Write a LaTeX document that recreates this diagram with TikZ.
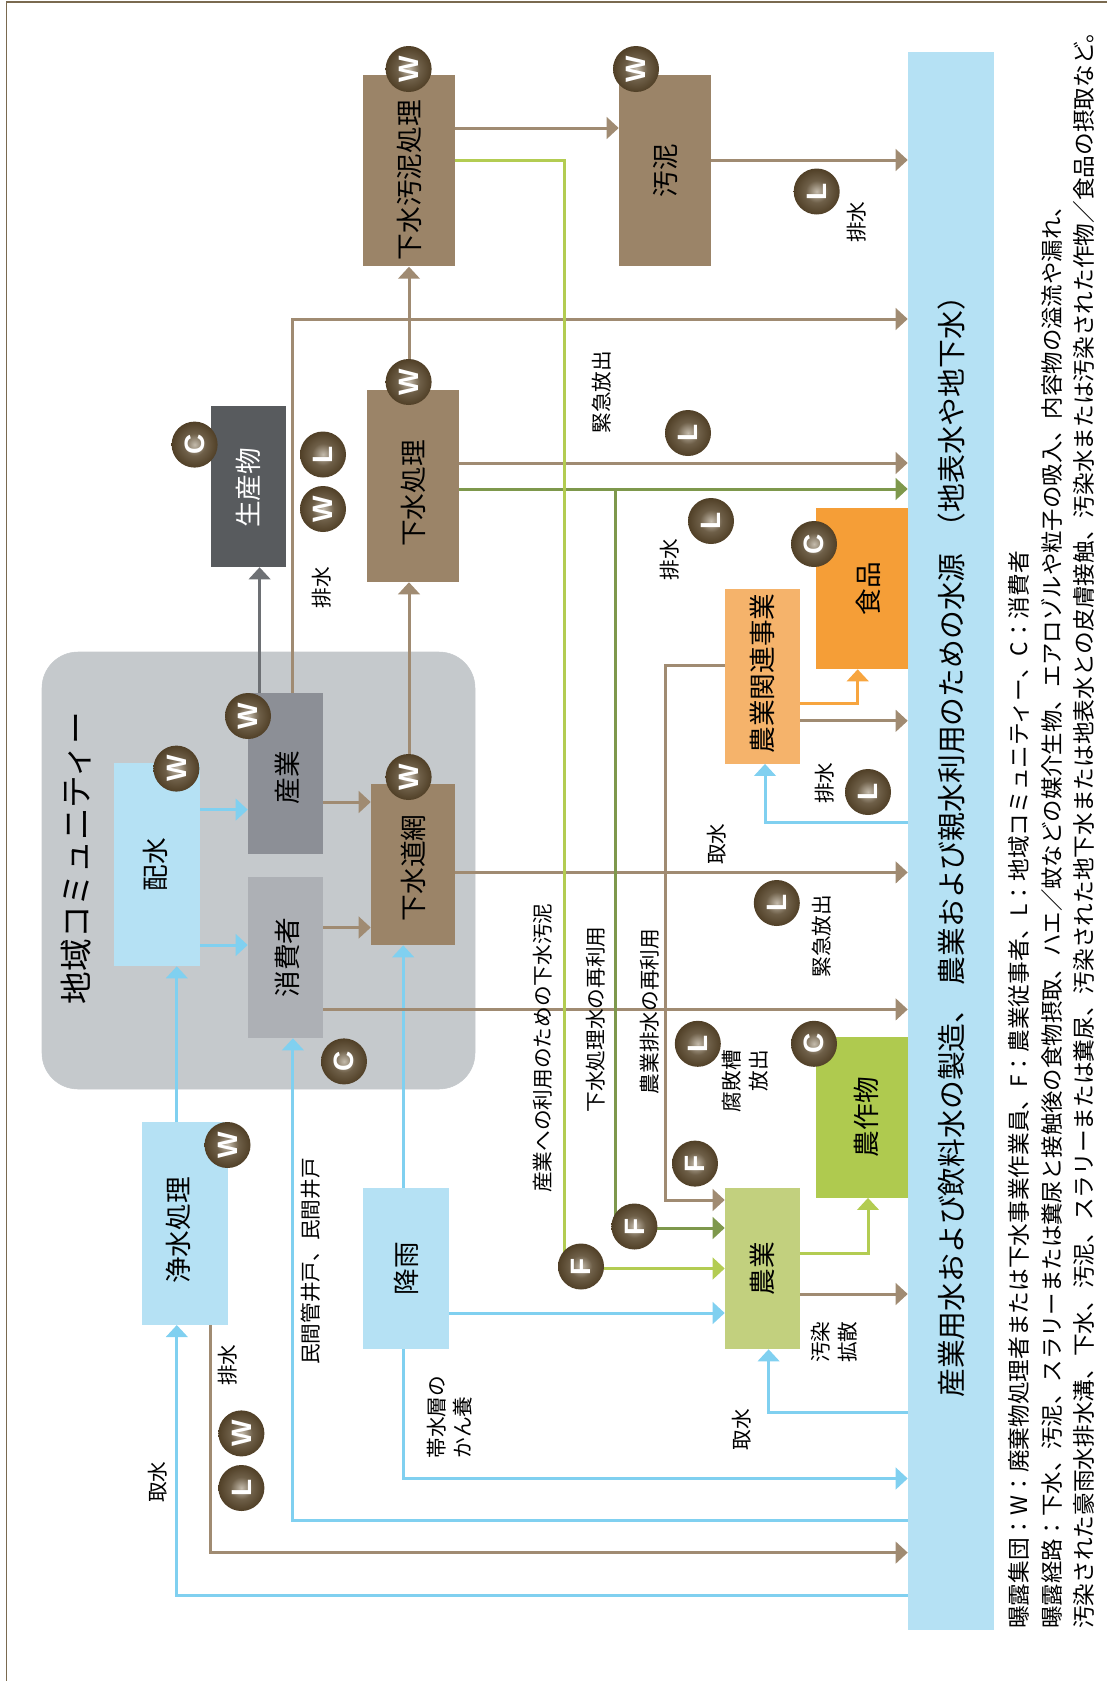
\documentclass[tikz,border=0pt]{standalone}
\usepackage{fontspec}
\setmainfont{Noto Sans CJK JP}
\newfontfamily\badgefont{Liberation Sans}
\usetikzlibrary{arrows.meta}

\definecolor{sewagebox}{HTML}{9B8468}
\definecolor{brownline}{HTML}{A08B72}
\definecolor{waterbox}{HTML}{B5E1F4}
\definecolor{waterline}{HTML}{80D0F0}
\definecolor{communitybox}{HTML}{C5C9CC}
\definecolor{productbox}{HTML}{585B5E}
\definecolor{productline}{HTML}{6D7074}
\definecolor{industrybox}{HTML}{8C8F96}
\definecolor{consumerbox}{HTML}{ADB0B5}
\definecolor{farmbox}{HTML}{C2D07E}
\definecolor{cropbox}{HTML}{AFCA4F}
\definecolor{lightgreenline}{HTML}{B3CC52}
\definecolor{darkgreenline}{HTML}{7E984C}
\definecolor{foodbox}{HTML}{F59E37}
\definecolor{bizbox}{HTML}{F5B36B}
\definecolor{bizline}{HTML}{F7A53F}
\definecolor{framecolor}{HTML}{7A6A50}
\definecolor{badgedark}{HTML}{4E3D24}
\definecolor{badgemid}{HTML}{6E5F48}
\definecolor{badgelight}{HTML}{C4BBAC}

\pgfdeclareradialshading{badgeglow}{\pgfpointorigin}{color(0bp)=(badgelight); color(12bp)=(badgemid); color(26bp)=(badgedark); color(50bp)=(badgedark)}

\tikzset{
  block/.style n args={3}{rectangle,fill=#1,minimum width=#2,minimum height=#3,inner sep=0pt},
  boxtext/.style={rotate=90,inner sep=0pt,font=\fontsize{20}{24}\selectfont},
  smalltext/.style={rotate=90,inner sep=0pt,font=\fontsize{15.5}{20}\selectfont},
  notetext/.style={rotate=90,anchor=west,inner sep=0pt,font=\fontsize{17}{20}\selectfont},
  badge/.style={circle,rotate=90,minimum size=34.5pt,inner sep=0pt,shading=badgeglow,text=white,font=\badgefont\bfseries\fontsize{21}{21}\selectfont},
  flow/.style={draw=#1,line width=2.25pt,>={Triangle[length=9pt,width=16pt]}},
}

\begin{document}
\begin{tikzpicture}[x=0.75pt,y=0.75pt,yscale=-1,xscale=1]
\useasboundingbox (0,0) rectangle (1107,1681);

%Frame
\draw [framecolor,line width=1.1pt] (1107,2) -- (6.4,2) -- (6.4,1681);

%Community
\draw [communitybox,fill=communitybox,rounded corners=27pt] (42,652) rectangle (475,1089);
\node [rotate=90,inner sep=0pt,font=\fontsize{24.5}{28}\selectfont] (communitytitle) at (76,858) {地域コミュニティー};

% Boxes
\node [block={sewagebox}{69pt}{143.6pt},label={[yshift=-7pt,boxtext]center:下水汚泥処理}] (sludgetreat) at (409,170.7) {};
\node [block={sewagebox}{69pt}{143.6pt},label={[boxtext]center:汚泥}] (sludge) at (665,170.7) {};
\node [block={sewagebox}{69pt}{144pt},label={[yshift=-5.5pt,boxtext]center:下水処理}] (sewagetreat) at (413,486) {};
\node [block={sewagebox}{63pt}{120.75pt},label={[yshift=-2.5pt,boxtext]center:下水道網}] (sewer) at (413,864.5) {};
\node [block={productbox}{56.25pt}{120.75pt},label={[yshift=-1pt,boxtext,text=white]center:生産物}] (product) at (248.5,486.5) {};
\node [block={waterbox}{64.5pt}{152.25pt},label={[xshift=-1.5pt,boxtext]center:配水}] (distribution) at (157,864.5) {};
\node [block={industrybox}{56.25pt}{120.75pt},label={[xshift=1.5pt,yshift=-3pt,boxtext]center:産業}] (industry) at (285.5,773.5) {};
\node [block={consumerbox}{56.25pt}{120.75pt},label={[xshift=1.5pt,boxtext]center:消費者}] (consumer) at (285.5,957.5) {};
\node [block={waterbox}{64.5pt}{152pt},label={[xshift=-4.8pt,yshift=-5.4pt,boxtext]center:浄水処理}] (purify) at (185,1223.4) {};
\node [block={waterbox}{64.5pt}{120.75pt},label={[boxtext]center:降雨}] (rain) at (406,1268.5) {};
\node [block={farmbox}{56.25pt}{120.75pt},label={[boxtext]center:農業}] (farm) at (762.5,1268.5) {};
\node [block={cropbox}{69pt}{120.5pt},label={[xshift=3pt,boxtext]center:農作物}] (crop) at (862,1117.3) {};
\node [block={foodbox}{69pt}{120.75pt},label={[xshift=5pt,boxtext]center:食品}] (food) at (862,588.5) {};
\node [block={bizbox}{56.25pt}{131pt},label={[yshift=2pt,boxtext]center:農業関連事業}] (agribiz) at (762.5,676.3) {};
\node [block={waterbox}{64.5pt}{1183.5pt}] (source) at (951,841) {};
\node [rotate=90,anchor=west,inner sep=0pt,font=\fontsize{21.6}{26}\selectfont] (sourcetitle) at (951.5,1398) {産業用水および飲料水の製造、\hspace{7pt}農業および親水利用のための水源\hspace{9pt}（地表水や地下水）};

%Water lines
\draw [flow=waterline,->] (source.west |- 0,1595) -| (176.8,0 |- purify.south);
\draw [flow=waterline,->] (176.8,0 |- purify.north) -- (176.8,0 |- distribution.south);
\draw [flow=waterline,->] (distribution.east |- 0,809.6) -- (industry.west |- 0,809.6);
\draw [flow=waterline,->] (distribution.east |- 0,945) -- (consumer.west |- 0,945);
\draw [flow=waterline,->] (source.west |- 0,1520.8) -| (292.9,0 |- consumer.south);
\draw [flow=waterline,->] (403.2,0 |- rain.north) -- (403.2,0 |- sewer.south);
\draw [flow=waterline,->] (403.2,0 |- rain.south) |- (source.west |- 0,1478.5);
\draw [flow=waterline,->] (rain.east |- 0,1313) -- (farm.west |- 0,1313);
\draw [flow=waterline,->] (source.west |- 0,1412) -| (768.6,0 |- farm.south);
\draw [flow=waterline,->] (source.west |- 0,822.6) -| (765,0 |- agribiz.south);

%Sewage lines
\draw [flow=brownline,->] (210.7,0 |- purify.south) |- (source.west |- 0,1552.6);
\draw [flow=brownline,->] (consumer.east |- 0,1009.4) -- (source.west |- 0,1009.4);
\draw [flow=brownline,->] (sewer.east |- 0,872.4) -- (source.west |- 0,872.4);
\draw [flow=brownline,->] (industry.east |- 0,802) -- (sewer.west |- 0,802);
\draw [flow=brownline,->] (consumer.east |- 0,927.5) -- (sewer.west |- 0,927.5);
\draw [flow=brownline,->] (292.5,0 |- industry.north) |- (source.west |- 0,319);
\draw [flow=brownline,->] (409,0 |- sewer.north) -- (409,0 |- sewagetreat.south);
\draw [flow=brownline,->] (409,0 |- sewagetreat.north) -- (409,0 |- sludgetreat.south);
\draw [flow=brownline,->] (sludgetreat.east |- 0,128) -- (sludge.west |- 0,128);
\draw [flow=brownline,->] (sludge.east |- 0,160) -- (source.west |- 0,160);
\draw [flow=brownline,->] (sewagetreat.east |- 0,463) -- (source.west |- 0,463);
\draw [flow=brownline,->] (agribiz.east |- 0,720.8) -- (source.west |- 0,720.8);
\draw [flow=brownline,->] (farm.east |- 0,1294) -- (source.west |- 0,1294);
\draw [flow=brownline,->] (agribiz.west |- 0,665.6) -| (665,1000) |- (farm.west |- 0,1200);

%Product line
\draw [flow=productline,->] (259.6,0 |- industry.north) -- (259.6,0 |- product.south);

%Green lines
\draw [flow=darkgreenline,->] (sewagetreat.east |- 0,489) -- (source.west |- 0,489);
\draw [flow=darkgreenline,->] (615,489) |- (farm.west |- 0,1228);
\draw [flow=lightgreenline,->] (sludgetreat.east |- 0,160) -| (564.6,1000) |- (farm.west |- 0,1268.5);
\draw [flow=lightgreenline,->] (farm.east |- 0,1253.6) -| (868,0 |- crop.south);

%Orange line
\draw [flow=bizline,->] (agribiz.east |- 0,703.6) -| (857.7,0 |- food.south);

% Badges
\node [badge] (wsludgetreat) at (408.6,69) {W};
\node [badge] (wsludge) at (636,69) {W};
\node [badge] (wsewagetreat) at (408.6,382) {W};
\node [badge] (wsewer) at (408.6,777) {W};
\node [badge] (windustry) at (248,716) {W};
\node [badge] (wdistribution) at (176.4,768.6) {W};
\node [badge] (wpurify) at (227.5,1145) {W};
\node [badge] (wdrain) at (241.4,1433.4) {W};
\node [badge] (wproduct) at (323,509) {W};
\node [badge] (cproduct) at (194.6,444.6) {C};
\node [badge] (cconsumer) at (344,1061.4) {C};
\node [badge] (cfood) at (814,544) {C};
\node [badge] (ccrop) at (814,1043.8) {C};
\node [badge] (lproduct) at (323,454.5) {L};
\node [badge] (lsludge) at (816.7,191.5) {L};
\node [badge] (lsewagetreat) at (688,433) {L};
\node [badge] (lsewer) at (711,521) {L};
\node [badge] (lagribiz) at (868,792) {L};
\node [badge] (lemergency) at (776.8,903) {L};
\node [badge] (lseptic) at (697.8,1043.8) {L};
\node [badge] (ldrain) at (241.4,1488) {L};
\node [badge] (fbiz) at (695,1163.6) {F};
\node [badge] (ftreated) at (634.4,1226.5) {F};
\node [badge] (fsludge) at (581,1266.5) {F};

% Text Node
\node [smalltext] (drainone) at (321.4,587.5) {排水};
\node [smalltext] (draintwo) at (856.5,222) {排水};
\node [smalltext] (drainthree) at (669.5,559.4) {排水};
\node [smalltext] (drainfour) at (824.4,783) {排水};
\node [smalltext] (drainfive) at (228,1365) {排水};
\node [smalltext] (emergencyone) at (602,392) {緊急放出};
\node [smalltext] (emergencytwo) at (821.3,936) {緊急放出};
\node [smalltext] (intakeone) at (716.8,844) {取水};
\node [smalltext] (intaketwo) at (741.8,1429.4) {取水};
\node [smalltext] (intakethree) at (157.5,1482) {取水};
\node [smalltext] (farmreuse) at (649.4,1011.6) {農業排水の再利用};
\node [smalltext] (treatedreuse) at (596,1019.5) {下水処理水の再利用};
\node [smalltext] (sludgeuse) at (543,1048) {産業への利用のための下水汚泥};
\node [smalltext,align=right] (septic) at (745,1081) {腐敗槽\\放出};
\node [smalltext,align=left] (spread) at (834.4,1342) {汚染\\拡散};
\node [smalltext,align=left] (aquifer) at (449.6,1417) {帯水層の\\かん養};
\node [smalltext] (wells) at (310.7,1261.6) {民間管井戸、民間井戸};

% Notes
\node [notetext] (noteone) at (1019,1629) {曝露集団：W：廃棄物処理者または下水事業作業員、F：農業従事者、L：地域コミュニティー、C：消費者};
\node [notetext,font=\fontsize{16.8}{20}\selectfont] (notetwo) at (1052,1629) {曝露経路：下水、汚泥、スラリーまたは糞尿と接触後の食物摂取、ハエ／蚊などの媒介生物、エアロゾルや粒子の吸入、内容物の溢流や漏れ、};
\node [notetext] (notethree) at (1084,1629) {汚染された豪雨水排水溝、下水、汚泥、スラリーまたは糞尿、汚染された地下水または地表水との皮膚接触、汚染水または汚染された作物／食品の摂取など。};

\end{tikzpicture}
\end{document}
